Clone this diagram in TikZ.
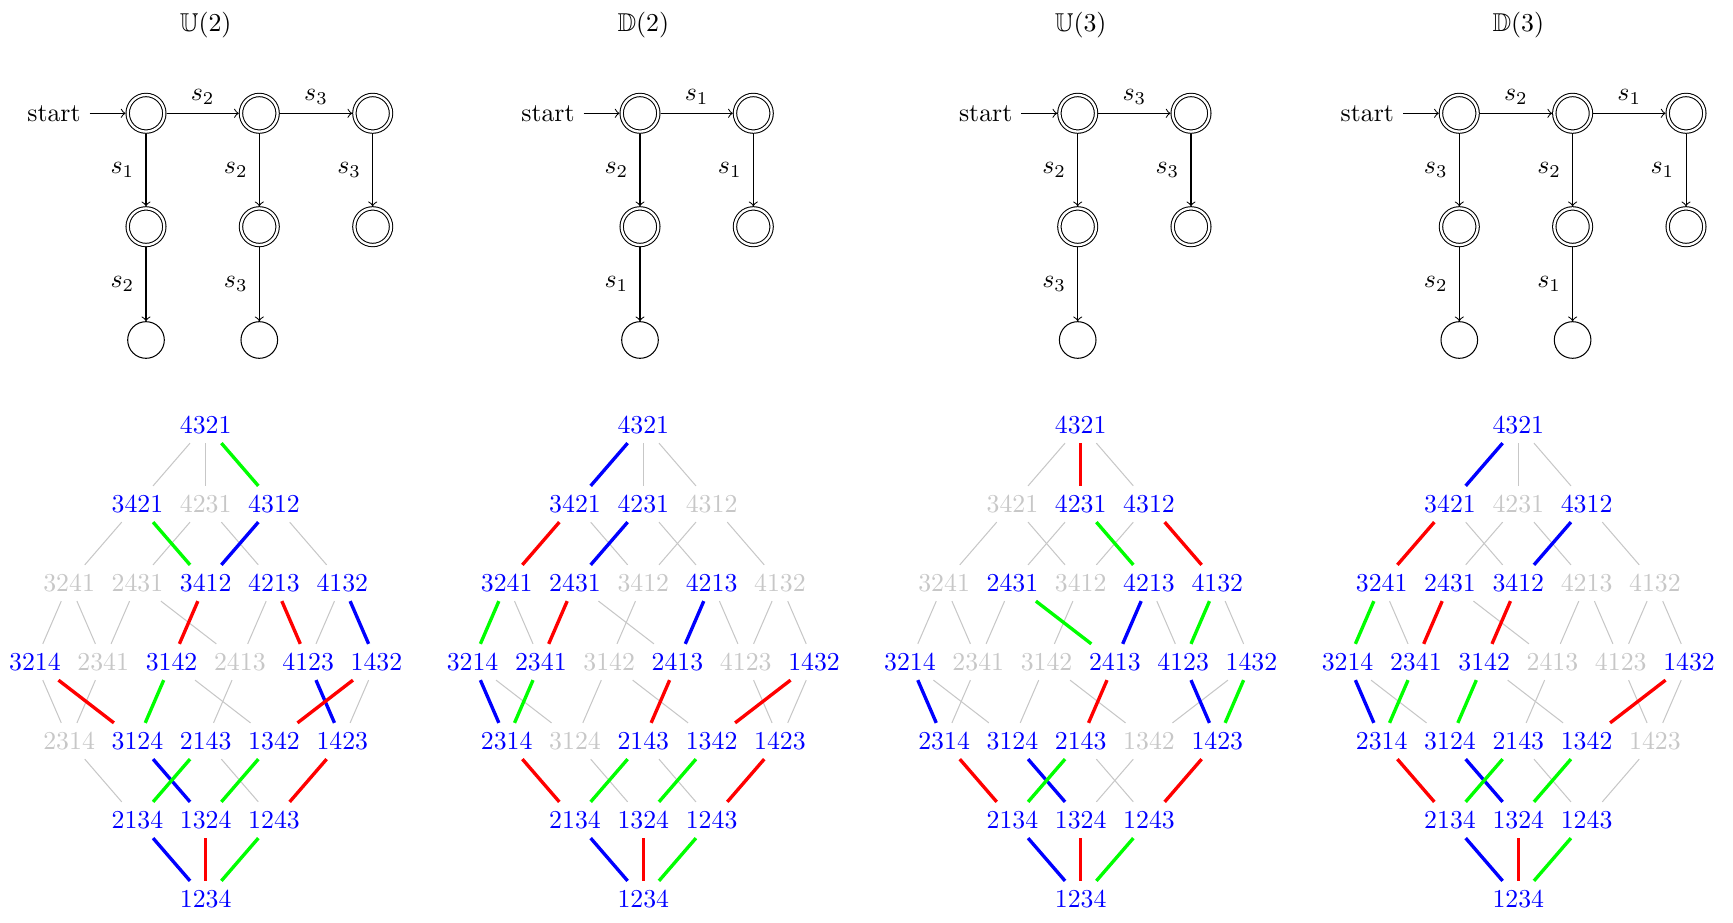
\documentclass[tikz,border=0pt]{standalone}
\usepackage{amssymb}
\definecolor{lg}{gray}{0.78}
\tikzset{
  stt/.style={circle, draw, minimum size=14.2pt, inner sep=0pt},
  acc/.style={stt, double, double distance=0.9pt, outer sep=0.85pt},
  tr/.style={->},
  eg/.style={draw=lg, line width=0.4pt},
  ec/.style={line width=1.3pt},
}
\makeatletter
\newcommand\latnodes[3]{%
  \foreach \n/\x/\r in {4321/0/0,3421/-1/1,4231/0/1,4312/1/1,3241/-2/2,2431/-1/2,3412/0/2,4213/1/2,4132/2/2,3214/-2.5/3,2341/-1.5/3,3142/-0.5/3,2413/0.5/3,4123/1.5/3,1432/2.5/3,2314/-2/4,3124/-1/4,2143/0/4,1342/1/4,1423/2/4,2134/-1/5,1324/0/5,1243/1/5,1234/0/6}{%
    \edef\lat@tmp{\noexpand\in@{,\n,}{,#3,}}\lat@tmp
    \ifin@\def\lat@col{lg}\else\def\lat@col{blue}\fi
    \node[text=\lat@col] (#1-\n) at ({#2+(\x)*68.3},{425+(\r)*79}) {\n};
  }%
}
\newcommand\latedges[3]{%
  \foreach \a/\b in {#2}{\draw[eg] (#1-\a) -- (#1-\b);}%
  \foreach \a/\b/\c in {#3}{\draw[ec, draw=\c] (#1-\a) -- (#1-\b);}%
}
\makeatother
\begin{document}
\begin{tikzpicture}[x=0.3876pt, y=-0.3876pt]
\useasboundingbox (0,0) rectangle (1733,923);
% ---------- titles
\node (t1) at (205.7,25) {$\mathbb{U}(2)$};
\node (t2) at (643.3,25) {$\mathbb{D}(2)$};
\node (t3) at (1080.7,25) {$\mathbb{U}(3)$};
\node (t4) at (1518.3,25) {$\mathbb{D}(3)$};
% ---------- automaton U(2)
\node[acc] (a0) at (146,113.3) {};
\node[acc] (a1) at (259.3,113.3) {};
\node[acc] (a2) at (372.7,113.3) {};
\node[acc] (a3) at (146,226.7) {};
\node[stt] (a4) at (146,340) {};
\node[acc] (a5) at (259.3,226.7) {};
\node[stt] (a6) at (259.3,340) {};
\node[acc] (a7) at (372.7,226.7) {};
\node (as) at (54,113.3) {start};
\draw[tr] (as) -- (a0);
\draw[tr] (a0) -- node[above] {$s_2$} (a1);
\draw[tr] (a1) -- node[above] {$s_3$} (a2);
\draw[tr] (a0) -- node[left=1pt] {$s_1$} (a3);
\draw[tr] (a3) -- node[left=1pt] {$s_2$} (a4);
\draw[tr] (a1) -- node[left=1pt] {$s_2$} (a5);
\draw[tr] (a5) -- node[left=1pt] {$s_3$} (a6);
\draw[tr] (a2) -- node[left=1pt] {$s_3$} (a7);
% ---------- automaton D(2)
\node[acc] (b0) at (640,113.3) {};
\node[acc] (b1) at (753.3,113.3) {};
\node[acc] (b3) at (640,226.7) {};
\node[stt] (b4) at (640,340) {};
\node[acc] (b5) at (753.3,226.7) {};
\node (bs) at (548,113.3) {start};
\draw[tr] (bs) -- (b0);
\draw[tr] (b0) -- node[above] {$s_1$} (b1);
\draw[tr] (b0) -- node[left=1pt] {$s_2$} (b3);
\draw[tr] (b3) -- node[left=1pt] {$s_1$} (b4);
\draw[tr] (b1) -- node[left=1pt] {$s_1$} (b5);
% ---------- automaton U(3)
\node[acc] (c0) at (1077.7,113.3) {};
\node[acc] (c1) at (1191,113.3) {};
\node[acc] (c3) at (1077.7,226.7) {};
\node[stt] (c4) at (1077.7,340) {};
\node[acc] (c5) at (1191,226.7) {};
\node (cs) at (985.7,113.3) {start};
\draw[tr] (cs) -- (c0);
\draw[tr] (c0) -- node[above] {$s_3$} (c1);
\draw[tr] (c0) -- node[left=1pt] {$s_2$} (c3);
\draw[tr] (c3) -- node[left=1pt] {$s_3$} (c4);
\draw[tr] (c1) -- node[left=1pt] {$s_3$} (c5);
% ---------- automaton D(3)
\node[acc] (d0) at (1459.3,113.3) {};
\node[acc] (d1) at (1572.6,113.3) {};
\node[acc] (d2) at (1686,113.3) {};
\node[acc] (d3) at (1459.3,226.7) {};
\node[stt] (d4) at (1459.3,340) {};
\node[acc] (d5) at (1572.6,226.7) {};
\node[stt] (d6) at (1572.6,340) {};
\node[acc] (d7) at (1686,226.7) {};
\node (ds) at (1367.3,113.3) {start};
\draw[tr] (ds) -- (d0);
\draw[tr] (d0) -- node[above] {$s_2$} (d1);
\draw[tr] (d1) -- node[above] {$s_1$} (d2);
\draw[tr] (d0) -- node[left=1pt] {$s_3$} (d3);
\draw[tr] (d3) -- node[left=1pt] {$s_2$} (d4);
\draw[tr] (d1) -- node[left=1pt] {$s_2$} (d5);
\draw[tr] (d5) -- node[left=1pt] {$s_1$} (d6);
\draw[tr] (d2) -- node[left=1pt] {$s_1$} (d7);
% ---------- lattices
\latnodes{L1}{205.7}{4231,3241,2431,2341,2413,2314}
\latnodes{L2}{643.3}{4312,3412,4132,3142,4123,3124}
\latnodes{L3}{1080.7}{3421,3241,3412,2341,3142,1342}
\latnodes{L4}{1518.3}{4231,4213,4132,2413,4123,1423}
\latedges{L1}{4321/3421,4321/4231,3421/3241,4231/2431,4231/4213,4312/4132,3241/3214,3241/2341,2431/2341,2431/2413,4213/2413,4132/4123,3214/2314,2341/2314,3142/1342,2413/2143,1432/1423,2314/2134,2143/1243}{4321/4312/green,3421/3412/green,4312/3412/blue,3412/3142/red,4213/4123/red,4132/1432/blue,3214/3124/red,3142/3124/green,4123/1423/blue,1432/1342/red,3124/1324/blue,2143/2134/green,1342/1324/green,1423/1243/red,2134/1234/blue,1324/1234/red,1243/1234/green}
\latedges{L2}{4321/4231,4321/4312,3421/3412,4231/4213,4312/3412,4312/4132,3241/2341,2431/2413,3412/3142,4213/4123,4132/4123,4132/1432,3214/3124,3142/3124,3142/1342,4123/1423,1432/1423,3124/1324,2143/1243}{4321/3421/blue,3421/3241/red,4231/2431/blue,3241/3214/green,2431/2341/red,4213/2413/blue,3214/2314/blue,2341/2314/green,2413/2143/red,1432/1342/red,2314/2134/red,2143/2134/green,1342/1324/green,1423/1243/red,2134/1234/blue,1324/1234/red,1243/1234/green}
\latedges{L3}{4321/3421,4321/4312,3421/3241,3421/3412,4231/2431,4312/3412,3241/3214,3241/2341,2431/2341,3412/3142,4213/4123,4132/1432,3214/3124,2341/2314,3142/3124,3142/1342,1432/1342,2143/1243,1342/1324}{4321/4231/red,4231/4213/green,4312/4132/red,2431/2413/green,4213/2413/blue,4132/4123/green,3214/2314/blue,2413/2143/red,4123/1423/blue,1432/1423/green,2314/2134/red,3124/1324/blue,2143/2134/green,1423/1243/red,2134/1234/blue,1324/1234/red,1243/1234/green}
\latedges{L4}{4321/4231,4321/4312,3421/3412,4231/2431,4231/4213,4312/4132,3241/2341,2431/2413,4213/2413,4213/4123,4132/4123,4132/1432,3214/3124,3142/1342,2413/2143,4123/1423,1432/1423,2143/1243,1423/1243}{4321/3421/blue,3421/3241/red,4312/3412/blue,3241/3214/green,2431/2341/red,3412/3142/red,3214/2314/blue,2341/2314/green,3142/3124/green,1432/1342/red,2314/2134/red,3124/1324/blue,2143/2134/green,1342/1324/green,2134/1234/blue,1324/1234/red,1243/1234/green}
\end{tikzpicture}
\end{document}
